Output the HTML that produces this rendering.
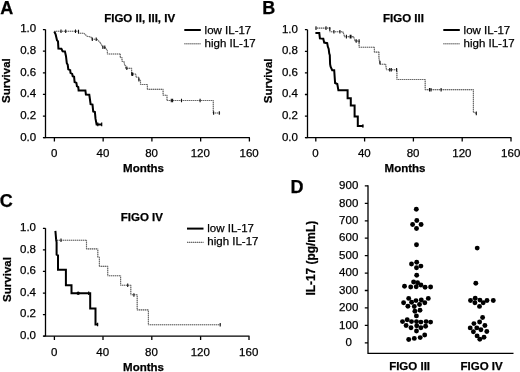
<!DOCTYPE html>
<html><head><meta charset="utf-8"><style>
html,body{margin:0;padding:0;background:#fff;}
svg{display:block;filter:grayscale(1);}
text{font-family:"Liberation Sans", sans-serif;font-size:11.5px;fill:#000;stroke:#000;stroke-width:0.25px;}
</style></head><body>
<svg width="520" height="372" viewBox="0 0 520 372">
<rect width="520" height="372" fill="#fff"/>
<text x="0.3" y="14.4" style="font-size:18px;font-weight:bold">A</text>
<text x="262.2" y="14.4" style="font-size:18px;font-weight:bold">B</text>
<text x="-0.2" y="206.5" style="font-size:18px;font-weight:bold">C</text>
<text x="290.6" y="192.5" style="font-size:18px;font-weight:bold">D</text>
<path d="M45.5,29.6 V137.7 M43.5,137.7 H249.9" stroke="#000" stroke-width="1.3" fill="none"/>
<path d="M42.9,29.60 H45.5M42.9,51.22 H45.5M42.9,72.84 H45.5M42.9,94.46 H45.5M42.9,116.08 H45.5M42.9,137.70 H45.5M54.40,137.7 V141.5M103.15,137.7 V141.5M151.90,137.7 V141.5M200.65,137.7 V141.5M249.40,137.7 V141.5" stroke="#000" stroke-width="1.3" fill="none"/>
<text x="36.2" y="32.4" text-anchor="end">1.0</text>
<text x="36.2" y="54.0" text-anchor="end">0.8</text>
<text x="36.2" y="75.6" text-anchor="end">0.6</text>
<text x="36.2" y="97.3" text-anchor="end">0.4</text>
<text x="36.2" y="118.9" text-anchor="end">0.2</text>
<text x="36.2" y="140.5" text-anchor="end">0.0</text>
<text x="54.1" y="157.2" text-anchor="middle">0</text>
<text x="102.9" y="157.2" text-anchor="middle">40</text>
<text x="151.6" y="157.2" text-anchor="middle">80</text>
<text x="200.3" y="157.2" text-anchor="middle">120</text>
<text x="249.1" y="157.2" text-anchor="middle">160</text>
<text x="143.5" y="172.2" text-anchor="middle" font-weight="bold">Months</text>
<text transform="translate(10.4,80.6) rotate(-90)" text-anchor="middle" font-weight="bold">Survival</text>
<text x="104.2" y="22.3" font-weight="bold">FIGO II, III, IV</text>
<path d="M184.3,30.0 h16.5" stroke="#000" stroke-width="2"/>
<path d="M184.3,43.8 h16.5" stroke="#b4b4b4" stroke-width="1.1"/>
<path d="M184.3,43.8 h16.5" stroke="#6a6a6a" stroke-width="1.1" stroke-dasharray="1 1"/>
<text x="204.60000000000002" y="33.5">low IL-17</text>
<text x="204.60000000000002" y="46.7">high IL-17</text>
<polyline points="54.4,31.2 78.5,31.2 78.5,33.3 84.0,33.3 87.1,36.3 91.0,37.0 92.0,39.2 97.0,39.2 100.4,42.9 102.9,47.3 105.0,47.3 107.4,50.6 107.4,54.0 120.3,54.0 120.3,57.4 122.0,57.6 122.0,61.3 124.0,61.6 124.7,65.2 125.6,65.5 125.6,68.4 131.6,68.4 131.6,74.0 135.6,74.0 136.3,77.3 138.6,77.3 138.6,79.7 140.5,80.2 140.5,84.5 147.4,84.5 147.4,89.4 163.1,89.4 163.1,95.2 167.0,95.2 167.0,100.5 213.3,100.5 213.3,113.0 220.2,113.0" stroke="#b4b4b4" stroke-width="1.1" fill="none"/>
<path d="M54.4,31.2 H78.5" stroke="#6a6a6a" stroke-width="1.1" stroke-dasharray="1 1" stroke-dashoffset="0.40"/>
<path d="M78.5,31.2 V33.3" stroke="#6a6a6a" stroke-width="1.1" stroke-dasharray="1 1" stroke-dashoffset="0.20"/>
<path d="M78.5,33.3 H84" stroke="#6a6a6a" stroke-width="1.1" stroke-dasharray="1 1" stroke-dashoffset="0.50"/>
<path d="M84,33.3 L87.1,36.3" stroke="#6a6a6a" stroke-width="1.1" stroke-dasharray="1 1"/>
<path d="M87.1,36.3 L91,37" stroke="#6a6a6a" stroke-width="1.1" stroke-dasharray="1 1"/>
<path d="M91,37 L92,39.2" stroke="#6a6a6a" stroke-width="1.1" stroke-dasharray="1 1"/>
<path d="M92,39.2 H97" stroke="#6a6a6a" stroke-width="1.1" stroke-dasharray="1 1" stroke-dashoffset="0.00"/>
<path d="M97,39.2 L100.4,42.9" stroke="#6a6a6a" stroke-width="1.1" stroke-dasharray="1 1"/>
<path d="M100.4,42.9 L102.9,47.3" stroke="#6a6a6a" stroke-width="1.1" stroke-dasharray="1 1"/>
<path d="M102.9,47.3 H105" stroke="#6a6a6a" stroke-width="1.1" stroke-dasharray="1 1" stroke-dashoffset="0.90"/>
<path d="M105,47.3 L107.4,50.6" stroke="#6a6a6a" stroke-width="1.1" stroke-dasharray="1 1"/>
<path d="M107.4,50.6 V54" stroke="#6a6a6a" stroke-width="1.1" stroke-dasharray="1 1" stroke-dashoffset="0.60"/>
<path d="M107.4,54 H120.3" stroke="#6a6a6a" stroke-width="1.1" stroke-dasharray="1 1" stroke-dashoffset="0.40"/>
<path d="M120.3,54 V57.4" stroke="#6a6a6a" stroke-width="1.1" stroke-dasharray="1 1" stroke-dashoffset="0.00"/>
<path d="M120.3,57.4 L122,57.6" stroke="#6a6a6a" stroke-width="1.1" stroke-dasharray="1 1"/>
<path d="M122,57.6 V61.3" stroke="#6a6a6a" stroke-width="1.1" stroke-dasharray="1 1" stroke-dashoffset="0.60"/>
<path d="M122,61.3 L124,61.6" stroke="#6a6a6a" stroke-width="1.1" stroke-dasharray="1 1"/>
<path d="M124,61.6 L124.7,65.2" stroke="#6a6a6a" stroke-width="1.1" stroke-dasharray="1 1"/>
<path d="M124.7,65.2 L125.6,65.5" stroke="#6a6a6a" stroke-width="1.1" stroke-dasharray="1 1"/>
<path d="M125.6,65.5 V68.4" stroke="#6a6a6a" stroke-width="1.1" stroke-dasharray="1 1" stroke-dashoffset="0.50"/>
<path d="M125.6,68.4 H131.6" stroke="#6a6a6a" stroke-width="1.1" stroke-dasharray="1 1" stroke-dashoffset="0.60"/>
<path d="M131.6,68.4 V74" stroke="#6a6a6a" stroke-width="1.1" stroke-dasharray="1 1" stroke-dashoffset="0.40"/>
<path d="M131.6,74 H135.6" stroke="#6a6a6a" stroke-width="1.1" stroke-dasharray="1 1" stroke-dashoffset="0.60"/>
<path d="M135.6,74 L136.3,77.3" stroke="#6a6a6a" stroke-width="1.1" stroke-dasharray="1 1"/>
<path d="M136.3,77.3 H138.6" stroke="#6a6a6a" stroke-width="1.1" stroke-dasharray="1 1" stroke-dashoffset="0.30"/>
<path d="M138.6,77.3 V79.7" stroke="#6a6a6a" stroke-width="1.1" stroke-dasharray="1 1" stroke-dashoffset="0.30"/>
<path d="M138.6,79.7 L140.5,80.2" stroke="#6a6a6a" stroke-width="1.1" stroke-dasharray="1 1"/>
<path d="M140.5,80.2 V84.5" stroke="#6a6a6a" stroke-width="1.1" stroke-dasharray="1 1" stroke-dashoffset="0.20"/>
<path d="M140.5,84.5 H147.4" stroke="#6a6a6a" stroke-width="1.1" stroke-dasharray="1 1" stroke-dashoffset="0.50"/>
<path d="M147.4,84.5 V89.4" stroke="#6a6a6a" stroke-width="1.1" stroke-dasharray="1 1" stroke-dashoffset="0.50"/>
<path d="M147.4,89.4 H163.1" stroke="#6a6a6a" stroke-width="1.1" stroke-dasharray="1 1" stroke-dashoffset="0.40"/>
<path d="M163.1,89.4 V95.2" stroke="#6a6a6a" stroke-width="1.1" stroke-dasharray="1 1" stroke-dashoffset="0.40"/>
<path d="M163.1,95.2 H167" stroke="#6a6a6a" stroke-width="1.1" stroke-dasharray="1 1" stroke-dashoffset="0.10"/>
<path d="M167,95.2 V100.5" stroke="#6a6a6a" stroke-width="1.1" stroke-dasharray="1 1" stroke-dashoffset="0.20"/>
<path d="M167,100.5 H213.3" stroke="#6a6a6a" stroke-width="1.1" stroke-dasharray="1 1" stroke-dashoffset="0.00"/>
<path d="M213.3,100.5 V113" stroke="#6a6a6a" stroke-width="1.1" stroke-dasharray="1 1" stroke-dashoffset="0.50"/>
<path d="M213.3,113 H220.2" stroke="#6a6a6a" stroke-width="1.1" stroke-dasharray="1 1" stroke-dashoffset="0.30"/>
<path d="M61,29.4 V33.0M65.7,29.4 V33.0M75.5,29.4 V33.0M78.5,29.8 V33.4M92.3,37.400000000000006 V41.0M96.2,37.400000000000006 V41.0M102.9,45.5 V49.099999999999994M104.8,45.5 V49.099999999999994M126.8,66.4 V70.0M131.7,72.2 V75.8M132.7,72.4 V76.0M138.9,77.8 V81.39999999999999M171.3,98.7 V102.3M172.6,98.7 V102.3M181.5,98.7 V102.3M200.1,98.7 V102.3M213.6,111.2 V114.8M219.3,111.2 V114.8" stroke="#111" stroke-width="1.1" fill="none"/>
<polyline points="54.3,31.5 55.6,34.3 57.0,40.2 58.0,41.3 58.4,48.6 61.4,48.8 62.6,51.2 64.9,51.4 66.0,56.2 66.8,63.2 67.7,64.6 68.3,69.3 70.2,70.2 70.5,73.0 72.2,74.0 72.7,76.3 74.1,76.8 74.6,82.0 76.4,82.9 76.9,86.2 78.3,87.1 78.6,90.4 85.4,90.4 85.9,94.6 89.3,94.8 89.9,99.0 90.6,104.1 92.5,104.6 93.2,111.4 94.9,112.0 95.5,118.7 96.6,124.4 101.9,124.4" stroke="#000" stroke-width="2" fill="none" stroke-linejoin="miter"/>
<path d="M97.8,122.60000000000001 V126.2M101.7,122.60000000000001 V126.2" stroke="#000" stroke-width="1.2" fill="none"/>
<path d="M307.5,29.7 V137.7 M305.5,137.7 H511.5" stroke="#000" stroke-width="1.3" fill="none"/>
<path d="M304.9,29.70 H307.5M304.9,51.30 H307.5M304.9,72.90 H307.5M304.9,94.50 H307.5M304.9,116.10 H307.5M304.9,137.70 H307.5M315.80,137.7 V141.5M364.60,137.7 V141.5M413.40,137.7 V141.5M462.20,137.7 V141.5M511.00,137.7 V141.5" stroke="#000" stroke-width="1.3" fill="none"/>
<text x="297.9" y="32.5" text-anchor="end">1.0</text>
<text x="297.9" y="54.1" text-anchor="end">0.8</text>
<text x="297.9" y="75.7" text-anchor="end">0.6</text>
<text x="297.9" y="97.3" text-anchor="end">0.4</text>
<text x="297.9" y="118.9" text-anchor="end">0.2</text>
<text x="297.9" y="140.5" text-anchor="end">0.0</text>
<text x="315.5" y="157.2" text-anchor="middle">0</text>
<text x="364.3" y="157.2" text-anchor="middle">40</text>
<text x="413.1" y="157.2" text-anchor="middle">80</text>
<text x="461.9" y="157.2" text-anchor="middle">120</text>
<text x="510.7" y="157.2" text-anchor="middle">160</text>
<text x="405.0" y="172.2" text-anchor="middle" font-weight="bold">Months</text>
<text transform="translate(272.2,80.9) rotate(-90)" text-anchor="middle" font-weight="bold">Survival</text>
<text x="383.0" y="21.9" font-weight="bold">FIGO III</text>
<path d="M443.3,30.0 h16.5" stroke="#000" stroke-width="2"/>
<path d="M443.3,43.8 h16.5" stroke="#b4b4b4" stroke-width="1.1"/>
<path d="M443.3,43.8 h16.5" stroke="#6a6a6a" stroke-width="1.1" stroke-dasharray="1 1"/>
<text x="463.6" y="33.5">low IL-17</text>
<text x="463.6" y="46.7">high IL-17</text>
<polyline points="315.7,28.1 329.8,28.1 329.8,31.8 342.8,31.8 343.3,33.1 344.2,35.0 344.4,36.6 353.3,36.6 353.8,37.4 354.8,39.8 355.0,41.0 359.1,41.0 359.1,47.3 374.4,47.3 374.4,52.1 378.9,52.1 378.9,57.7 380.0,64.2 385.6,64.2 386.5,69.8 396.9,69.8 396.9,79.5 425.2,79.5 425.2,89.6 473.4,89.6 473.4,112.1 476.6,113.4" stroke="#b4b4b4" stroke-width="1.1" fill="none"/>
<path d="M315.7,28.1 H329.8" stroke="#6a6a6a" stroke-width="1.1" stroke-dasharray="1 1" stroke-dashoffset="0.70"/>
<path d="M329.8,28.1 V31.8" stroke="#6a6a6a" stroke-width="1.1" stroke-dasharray="1 1" stroke-dashoffset="0.10"/>
<path d="M329.8,31.8 H342.8" stroke="#6a6a6a" stroke-width="1.1" stroke-dasharray="1 1" stroke-dashoffset="0.80"/>
<path d="M342.8,31.8 L343.3,33.1" stroke="#6a6a6a" stroke-width="1.1" stroke-dasharray="1 1"/>
<path d="M343.3,33.1 L344.2,35" stroke="#6a6a6a" stroke-width="1.1" stroke-dasharray="1 1"/>
<path d="M344.2,35 L344.4,36.6" stroke="#6a6a6a" stroke-width="1.1" stroke-dasharray="1 1"/>
<path d="M344.4,36.6 H353.3" stroke="#6a6a6a" stroke-width="1.1" stroke-dasharray="1 1" stroke-dashoffset="0.40"/>
<path d="M353.3,36.6 L353.8,37.4" stroke="#6a6a6a" stroke-width="1.1" stroke-dasharray="1 1"/>
<path d="M353.8,37.4 L354.8,39.8" stroke="#6a6a6a" stroke-width="1.1" stroke-dasharray="1 1"/>
<path d="M354.8,39.8 L355,41" stroke="#6a6a6a" stroke-width="1.1" stroke-dasharray="1 1"/>
<path d="M355,41 H359.1" stroke="#6a6a6a" stroke-width="1.1" stroke-dasharray="1 1" stroke-dashoffset="0.00"/>
<path d="M359.1,41 V47.3" stroke="#6a6a6a" stroke-width="1.1" stroke-dasharray="1 1" stroke-dashoffset="0.00"/>
<path d="M359.1,47.3 H374.4" stroke="#6a6a6a" stroke-width="1.1" stroke-dasharray="1 1" stroke-dashoffset="0.10"/>
<path d="M374.4,47.3 V52.1" stroke="#6a6a6a" stroke-width="1.1" stroke-dasharray="1 1" stroke-dashoffset="0.30"/>
<path d="M374.4,52.1 H378.9" stroke="#6a6a6a" stroke-width="1.1" stroke-dasharray="1 1" stroke-dashoffset="0.40"/>
<path d="M378.9,52.1 V57.7" stroke="#6a6a6a" stroke-width="1.1" stroke-dasharray="1 1" stroke-dashoffset="0.10"/>
<path d="M378.9,57.7 L380,64.2" stroke="#6a6a6a" stroke-width="1.1" stroke-dasharray="1 1"/>
<path d="M380,64.2 H385.6" stroke="#6a6a6a" stroke-width="1.1" stroke-dasharray="1 1" stroke-dashoffset="0.00"/>
<path d="M385.6,64.2 L386.5,69.8" stroke="#6a6a6a" stroke-width="1.1" stroke-dasharray="1 1"/>
<path d="M386.5,69.8 H396.9" stroke="#6a6a6a" stroke-width="1.1" stroke-dasharray="1 1" stroke-dashoffset="0.50"/>
<path d="M396.9,69.8 V79.5" stroke="#6a6a6a" stroke-width="1.1" stroke-dasharray="1 1" stroke-dashoffset="0.80"/>
<path d="M396.9,79.5 H425.2" stroke="#6a6a6a" stroke-width="1.1" stroke-dasharray="1 1" stroke-dashoffset="0.90"/>
<path d="M425.2,79.5 V89.6" stroke="#6a6a6a" stroke-width="1.1" stroke-dasharray="1 1" stroke-dashoffset="0.50"/>
<path d="M425.2,89.6 H473.4" stroke="#6a6a6a" stroke-width="1.1" stroke-dasharray="1 1" stroke-dashoffset="0.20"/>
<path d="M473.4,89.6 V112.1" stroke="#6a6a6a" stroke-width="1.1" stroke-dasharray="1 1" stroke-dashoffset="0.60"/>
<path d="M473.4,112.1 L476.6,113.4" stroke="#6a6a6a" stroke-width="1.1" stroke-dasharray="1 1"/>
<path d="M316,26.3 V29.900000000000002M326,26.3 V29.900000000000002M329.8,27.0 V30.6M333.9,30.0 V33.6M339.9,30.0 V33.6M346.4,34.800000000000004 V38.4M350.2,34.800000000000004 V38.4M351,34.800000000000004 V38.4M356.2,39.2 V42.8M359.1,39.2 V42.8M380,60.7 V64.3M389.7,68.0 V71.6M391.3,68.0 V71.6M396.6,68.0 V71.6M429.5,87.9 V91.5M431,87.9 V91.5M441.1,87.9 V91.5M476.3,111.60000000000001 V115.2" stroke="#111" stroke-width="1.1" fill="none"/>
<polyline points="315.4,33.1 319.3,33.1 319.9,38.4 323.3,38.7 324.2,42.6 327.2,43.2 327.8,46.6 328.7,48.9 329.2,53.4 329.8,55.1 330.1,64.1 330.6,66.6 332.2,70.2 334.2,70.2 335.1,83.0 337.3,84.0 338.4,90.3 347.6,90.3 347.6,98.2 350.8,98.2 350.8,105.6 354.6,105.6 354.6,116.4 357.8,116.4 357.8,126.0 363.3,126.0" stroke="#000" stroke-width="2" fill="none" stroke-linejoin="miter"/>
<path d="M362.9,124.2 V127.8" stroke="#000" stroke-width="1.2" fill="none"/>
<path d="M45.5,228.3 V336.2 M43.5,336.2 H249.5" stroke="#000" stroke-width="1.3" fill="none"/>
<path d="M42.9,228.30 H45.5M42.9,249.88 H45.5M42.9,271.46 H45.5M42.9,293.04 H45.5M42.9,314.62 H45.5M42.9,336.20 H45.5M54.40,336.2 V340.0M103.00,336.2 V340.0M151.80,336.2 V340.0M200.60,336.2 V340.0M249.00,336.2 V340.0" stroke="#000" stroke-width="1.3" fill="none"/>
<text x="36.0" y="231.1" text-anchor="end">1.0</text>
<text x="36.0" y="252.7" text-anchor="end">0.8</text>
<text x="36.0" y="274.3" text-anchor="end">0.6</text>
<text x="36.0" y="295.8" text-anchor="end">0.4</text>
<text x="36.0" y="317.4" text-anchor="end">0.2</text>
<text x="36.0" y="339.0" text-anchor="end">0.0</text>
<text x="54.1" y="355.9" text-anchor="middle">0</text>
<text x="102.7" y="355.9" text-anchor="middle">40</text>
<text x="151.5" y="355.9" text-anchor="middle">80</text>
<text x="200.3" y="355.9" text-anchor="middle">120</text>
<text x="248.7" y="355.9" text-anchor="middle">160</text>
<text x="143.5" y="370.7" text-anchor="middle" font-weight="bold">Months</text>
<text transform="translate(10.6,279.5) rotate(-90)" text-anchor="middle" font-weight="bold">Survival</text>
<text x="120.8" y="220.5" font-weight="bold">FIGO IV</text>
<path d="M187.0,228.6 h16.5" stroke="#000" stroke-width="2"/>
<path d="M187.0,242.4 h16.5" stroke="#b4b4b4" stroke-width="1.1"/>
<path d="M187.0,242.4 h16.5" stroke="#6a6a6a" stroke-width="1.1" stroke-dasharray="1 1"/>
<text x="207.3" y="232.1">low IL-17</text>
<text x="207.3" y="245.29999999999998">high IL-17</text>
<polyline points="55.6,240.3 86.5,240.3 86.5,248.9 97.8,248.9 97.8,257.3 99.4,257.3 99.4,266.4 107.7,266.4 107.7,275.8 120.6,275.8 120.6,285.3 130.8,285.3 130.8,294.7 137.2,294.7 137.2,309.9 148.4,309.9 148.4,324.8 220.4,324.8" stroke="#b4b4b4" stroke-width="1.1" fill="none"/>
<path d="M55.6,240.3 H86.5" stroke="#6a6a6a" stroke-width="1.1" stroke-dasharray="1 1" stroke-dashoffset="0.60"/>
<path d="M86.5,240.3 V248.9" stroke="#6a6a6a" stroke-width="1.1" stroke-dasharray="1 1" stroke-dashoffset="0.30"/>
<path d="M86.5,248.9 H97.8" stroke="#6a6a6a" stroke-width="1.1" stroke-dasharray="1 1" stroke-dashoffset="0.50"/>
<path d="M97.8,248.9 V257.3" stroke="#6a6a6a" stroke-width="1.1" stroke-dasharray="1 1" stroke-dashoffset="0.90"/>
<path d="M97.8,257.3 H99.4" stroke="#6a6a6a" stroke-width="1.1" stroke-dasharray="1 1" stroke-dashoffset="0.80"/>
<path d="M99.4,257.3 V266.4" stroke="#6a6a6a" stroke-width="1.1" stroke-dasharray="1 1" stroke-dashoffset="0.30"/>
<path d="M99.4,266.4 H107.7" stroke="#6a6a6a" stroke-width="1.1" stroke-dasharray="1 1" stroke-dashoffset="0.40"/>
<path d="M107.7,266.4 V275.8" stroke="#6a6a6a" stroke-width="1.1" stroke-dasharray="1 1" stroke-dashoffset="0.40"/>
<path d="M107.7,275.8 H120.6" stroke="#6a6a6a" stroke-width="1.1" stroke-dasharray="1 1" stroke-dashoffset="0.70"/>
<path d="M120.6,275.8 V285.3" stroke="#6a6a6a" stroke-width="1.1" stroke-dasharray="1 1" stroke-dashoffset="0.80"/>
<path d="M120.6,285.3 H130.8" stroke="#6a6a6a" stroke-width="1.1" stroke-dasharray="1 1" stroke-dashoffset="0.60"/>
<path d="M130.8,285.3 V294.7" stroke="#6a6a6a" stroke-width="1.1" stroke-dasharray="1 1" stroke-dashoffset="0.30"/>
<path d="M130.8,294.7 H137.2" stroke="#6a6a6a" stroke-width="1.1" stroke-dasharray="1 1" stroke-dashoffset="0.80"/>
<path d="M137.2,294.7 V309.9" stroke="#6a6a6a" stroke-width="1.1" stroke-dasharray="1 1" stroke-dashoffset="0.70"/>
<path d="M137.2,309.9 H148.4" stroke="#6a6a6a" stroke-width="1.1" stroke-dasharray="1 1" stroke-dashoffset="0.20"/>
<path d="M148.4,309.9 V324.8" stroke="#6a6a6a" stroke-width="1.1" stroke-dasharray="1 1" stroke-dashoffset="0.90"/>
<path d="M148.4,324.8 H220.4" stroke="#6a6a6a" stroke-width="1.1" stroke-dasharray="1 1" stroke-dashoffset="0.40"/>
<path d="M61,238.5 V242.10000000000002M127.7,283.5 V287.1M133.9,293.2 V296.8M220.2,323.0 V326.6" stroke="#111" stroke-width="1.1" fill="none"/>
<polyline points="55.4,230.8 56.1,239.2 56.6,242.4 56.6,254.6 58.0,255.3 58.0,269.8 65.9,269.8 65.9,285.2 71.5,285.2 71.5,293.2 90.2,293.2 90.2,308.5 95.5,308.5 95.5,324.5 98.1,324.5" stroke="#000" stroke-width="2" fill="none" stroke-linejoin="miter"/>
<path d="M88.7,291.4 V295.0M97.6,322.7 V326.3" stroke="#000" stroke-width="1.2" fill="none"/>
<circle cx="78.2" cy="293.2" r="1.7"/>
<path d="M368.0,185.2 V353.3 H513.5" stroke="#000" stroke-width="1.3" fill="none"/>
<path d="M364.8,342.80 H368.0M364.8,325.37 H368.0M364.8,307.94 H368.0M364.8,290.51 H368.0M364.8,273.08 H368.0M364.8,255.65 H368.0M364.8,238.22 H368.0M364.8,220.79 H368.0M364.8,203.36 H368.0M364.8,185.93 H368.0" stroke="#000" stroke-width="1.3" fill="none"/>
<text x="348.7" y="346.0" text-anchor="middle">0</text>
<text x="348.7" y="328.6" text-anchor="middle">100</text>
<text x="348.7" y="311.1" text-anchor="middle">200</text>
<text x="348.7" y="293.7" text-anchor="middle">300</text>
<text x="348.7" y="276.3" text-anchor="middle">400</text>
<text x="348.7" y="258.9" text-anchor="middle">500</text>
<text x="348.7" y="241.4" text-anchor="middle">600</text>
<text x="348.7" y="224.0" text-anchor="middle">700</text>
<text x="348.7" y="206.6" text-anchor="middle">800</text>
<text x="348.7" y="189.1" text-anchor="middle">900</text>
<text transform="translate(315.0,258.2) rotate(-90)" text-anchor="middle" style="font-weight:bold;font-size:11.9px">IL-17 (pg/mL)</text>
<text x="409.6" y="369.6" text-anchor="middle" font-weight="bold">FIGO III</text>
<text x="481.6" y="369.6" text-anchor="middle" font-weight="bold">FIGO IV</text>
<circle cx="416.3" cy="209.2" r="2.45"/>
<circle cx="416.8" cy="220.5" r="2.45"/>
<circle cx="412.6" cy="224.5" r="2.45"/>
<circle cx="421.1" cy="224.5" r="2.45"/>
<circle cx="416.5" cy="228.5" r="2.45"/>
<circle cx="416.5" cy="244.7" r="2.45"/>
<circle cx="411.5" cy="264" r="2.45"/>
<circle cx="416.7" cy="262.3" r="2.45"/>
<circle cx="420.9" cy="266.1" r="2.45"/>
<circle cx="416.5" cy="267.7" r="2.45"/>
<circle cx="416.7" cy="275.2" r="2.45"/>
<circle cx="413.6" cy="282" r="2.45"/>
<circle cx="417.6" cy="282.8" r="2.45"/>
<circle cx="420.9" cy="285" r="2.45"/>
<circle cx="404.5" cy="286.2" r="2.45"/>
<circle cx="410.7" cy="287" r="2.45"/>
<circle cx="416.2" cy="286.8" r="2.45"/>
<circle cx="425.1" cy="287.2" r="2.45"/>
<circle cx="430.6" cy="287" r="2.45"/>
<circle cx="408.7" cy="298.4" r="2.45"/>
<circle cx="428.3" cy="298.4" r="2.45"/>
<circle cx="416" cy="300.6" r="2.45"/>
<circle cx="421.3" cy="300" r="2.45"/>
<circle cx="403.6" cy="302.8" r="2.45"/>
<circle cx="411.6" cy="302.2" r="2.45"/>
<circle cx="424.8" cy="302.7" r="2.45"/>
<circle cx="419.5" cy="304.5" r="2.45"/>
<circle cx="407.9" cy="306.2" r="2.45"/>
<circle cx="414.3" cy="306.5" r="2.45"/>
<circle cx="420" cy="310.2" r="2.45"/>
<circle cx="414.9" cy="311.3" r="2.45"/>
<circle cx="416.4" cy="315.9" r="2.45"/>
<circle cx="402.5" cy="321.6" r="2.45"/>
<circle cx="407.2" cy="319.7" r="2.45"/>
<circle cx="411.5" cy="321.6" r="2.45"/>
<circle cx="416.5" cy="321.6" r="2.45"/>
<circle cx="420.9" cy="322.1" r="2.45"/>
<circle cx="426.1" cy="321.6" r="2.45"/>
<circle cx="430.6" cy="322.1" r="2.45"/>
<circle cx="406.1" cy="325.5" r="2.45"/>
<circle cx="411" cy="327.7" r="2.45"/>
<circle cx="416.7" cy="325.8" r="2.45"/>
<circle cx="420.9" cy="327.7" r="2.45"/>
<circle cx="425.6" cy="326.3" r="2.45"/>
<circle cx="416.5" cy="331" r="2.45"/>
<circle cx="408.7" cy="339.5" r="2.45"/>
<circle cx="414.3" cy="338.4" r="2.45"/>
<circle cx="420.2" cy="337.6" r="2.45"/>
<circle cx="424.7" cy="335" r="2.45"/>
<circle cx="477.2" cy="248.1" r="2.45"/>
<circle cx="475.8" cy="283.3" r="2.45"/>
<circle cx="470.5" cy="300.5" r="2.45"/>
<circle cx="475.2" cy="298.3" r="2.45"/>
<circle cx="474.9" cy="302.8" r="2.45"/>
<circle cx="479.9" cy="300.1" r="2.45"/>
<circle cx="483.2" cy="302.8" r="2.45"/>
<circle cx="487" cy="300.5" r="2.45"/>
<circle cx="493.3" cy="300.5" r="2.45"/>
<circle cx="479.5" cy="306.4" r="2.45"/>
<circle cx="482.6" cy="317.5" r="2.45"/>
<circle cx="479.6" cy="322" r="2.45"/>
<circle cx="473.9" cy="323.6" r="2.45"/>
<circle cx="484.9" cy="325.5" r="2.45"/>
<circle cx="470.2" cy="327.9" r="2.45"/>
<circle cx="476.8" cy="327.9" r="2.45"/>
<circle cx="480.9" cy="329.8" r="2.45"/>
<circle cx="473.4" cy="331.8" r="2.45"/>
<circle cx="486.8" cy="331.5" r="2.45"/>
<circle cx="477.1" cy="335.9" r="2.45"/>
<circle cx="484" cy="337.3" r="2.45"/>
<circle cx="479.8" cy="339.2" r="2.45"/>
</svg>
</body></html>
